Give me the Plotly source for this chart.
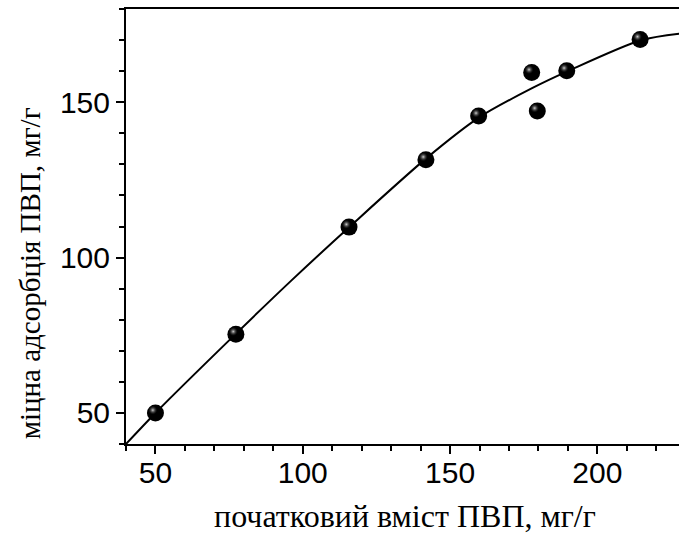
import plotly.graph_objects as go

# measured points: initial PVP content vs. strong adsorption of PVP (mg/g)
initial_pvp = [50, 77.3, 115.7, 141.8, 159.7, 177.7, 179.6, 189.6, 214.5]
adsorbed_pvp = [50, 75.3, 109.8, 131.5, 145.6, 159.6, 147.2, 160.1, 170.2]

# fitted trend curve
fit_x = [40, 50, 77, 96, 116, 142, 160, 178, 190, 215, 228]
fit_y = [40, 50, 75.2, 92.5, 110, 132, 145.2, 154.6, 160, 170, 172.1]

x_range = [40, 227.7]
y_range = [40, 180]

x_title = "початковий вміст ПВП, мг/г"
y_title = "міцна адсорбція ПВП, мг/г"

fig = go.Figure()

fig.add_trace(go.Scatter(
    x=fit_x, y=fit_y, mode="lines",
    line=dict(color="black", width=2, shape="spline", smoothing=0.8),
    hoverinfo="skip",
))

# dark spheres
fig.add_trace(go.Scatter(
    x=initial_pvp, y=adsorbed_pvp, mode="markers",
    marker=dict(size=17, color="#000000", line=dict(width=0)),
))

# specular highlight, drawn on a slightly shifted overlay axis pair
fig.add_trace(go.Scatter(
    x=initial_pvp, y=adsorbed_pvp, mode="markers",
    xaxis="x2", yaxis="y2",
    marker=dict(size=9, color="rgba(40,40,40,0)", line=dict(width=0),
                gradient=dict(type="radial", color="#d0d0d0")),
    hoverinfo="skip",
))

tick_font = dict(family="Liberation Sans, Arial", size=30, color="black")
title_family = "Liberation Serif, Times New Roman"

fig.update_layout(
    width=679, height=537,
    margin=dict(l=126, r=0, t=9, b=93),
    paper_bgcolor="white", plot_bgcolor="white",
    showlegend=False,
    xaxis=dict(
        range=x_range, showgrid=False, zeroline=False,
        showline=True, linecolor="black", linewidth=2, mirror=True,
        ticks="outside", ticklen=8, tickwidth=1.5, tickcolor="black",
        tickvals=[50, 100, 150, 200], tickfont=tick_font,
        ticklabelstandoff=-7,
        minor=dict(dtick=10, tick0=0, ticks="outside", ticklen=5,
                   tickwidth=1.5, tickcolor="black", showgrid=False),
    ),
    yaxis=dict(
        range=y_range, showgrid=False, zeroline=False,
        showline=True, linecolor="black", linewidth=2,
        ticks="outside", ticklen=8, tickwidth=1.5, tickcolor="black",
        tickvals=[50, 100, 150], tickfont=tick_font,
        minor=dict(dtick=10, tick0=0, ticks="outside", ticklen=5,
                   tickwidth=1.5, tickcolor="black", showgrid=False),
    ),
    xaxis2=dict(range=[x_range[0] + 0.9, x_range[1] + 0.9], overlaying="x",
                visible=False, showgrid=False, zeroline=False),
    yaxis2=dict(range=[y_range[0] - 0.9, y_range[1] - 0.9], overlaying="y",
                visible=False, showgrid=False, zeroline=False),
    annotations=[
        dict(text=x_title, xref="paper", yref="paper",
             x=0.505, y=-0.165, xanchor="center", yanchor="middle",
             showarrow=False,
             font=dict(family=title_family, size=32, color="black")),
        dict(text=y_title, xref="paper", yref="paper",
             x=-0.172, y=0.392, xanchor="center", yanchor="middle",
             textangle=-90, showarrow=False,
             font=dict(family=title_family, size=29, color="black")),
    ],
)

fig.write_html("out.html")
